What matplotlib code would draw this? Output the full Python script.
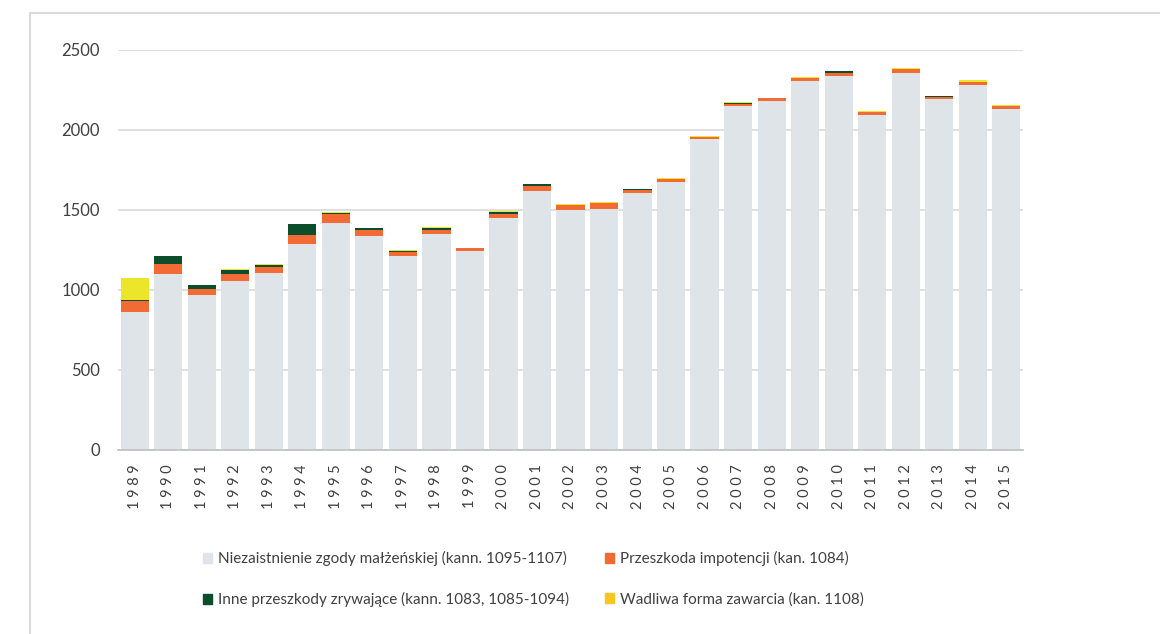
import numpy as np
import matplotlib
matplotlib.use('Agg')
import matplotlib.pyplot as plt
from matplotlib.patches import Rectangle, Patch

plt.rcParams['font.family'] = ['Lato', 'DejaVu Sans']

years = [str(y) for y in range(1989, 2016)]

# Niezaistnienie zgody malzenskiej
zgoda = [860, 1100, 970, 1055, 1105, 1290, 1420, 1340, 1215, 1352,
         1243, 1452, 1620, 1500, 1505, 1608, 1675, 1942, 2150, 2181,
         2308, 2340, 2094, 2356, 2194, 2283, 2133]
# Przeszkoda impotencji
impotencja = [70, 65, 35, 48, 40, 52, 52, 37, 25, 25,
              18, 25, 28, 30, 38, 20, 17, 14, 15, 18,
              14, 18, 20, 24, 10, 18, 14]
# Inne przeszkody zrywajace
inne = [5, 45, 25, 25, 12, 70, 10, 10, 3, 10,
        2, 12, 13, 3, 2, 1, 4, 2, 6, 1,
        4, 8, 1, 1, 9, 2, 2]
# Wadliwa forma zawarcia
forma = [140, 5, 2, 3, 5, 3, 5, 3, 7, 5,
         2, 5, 4, 4, 5, 1, 4, 4, 4, 1,
         4, 4, 6, 4, 2, 9, 6]

labels = ['Niezaistnienie zgody małżeńskiej (kann. 1095-1107)',
          'Inne przeszkody zrywające (kann. 1083, 1085-1094)',
          'Przeszkoda impotencji (kan. 1084)',
          'Wadliwa forma zawarcia (kan. 1108)']

c_grey = '#DEE4E7'
c_orange = '#F26B35'
c_green = '#0C4E2B'
c_yellow = '#EBE62A'
c_yellow_leg = '#F7C620'
txt = '#404040'

fig = plt.figure(figsize=(11.6, 6.34), dpi=100)
ax = fig.add_axes([118/1160, 1-450/634, 905/1160, 400/634])

x = np.arange(len(years))
w = 0.84
b1 = np.array(zgoda)
b2 = b1 + np.array(impotencja)
b3 = b2 + np.array(inne)
ax.bar(x, zgoda, w, color=c_grey, zorder=2)
ax.bar(x, impotencja, w, bottom=b1, color=c_orange, zorder=2)
ax.bar(x, inne, w, bottom=b2, color=c_green, zorder=2)
ax.bar(x, forma, w, bottom=b3, color=c_yellow, zorder=2)

ax.set_xlim(-0.5, len(years) - 0.5)
ax.set_ylim(0, 2500)
yt = [0, 500, 1000, 1500, 2000, 2500]
ax.set_yticks(yt)
ax.set_yticklabels([str(v) for v in yt], color=txt, fontsize=12)
ax.set_xticks(x)
# wide letter spacing on the year labels
ax.set_xticklabels(['\u2005'.join(y) for y in years], rotation=90,
                   color=txt, fontsize=10.5)
ax.tick_params(axis='both', length=0)
ax.tick_params(axis='y', pad=13)
ax.tick_params(axis='x', pad=10)
ax.grid(axis='y', color='#D9D9D9', linewidth=1.2, zorder=0)
for s in ['top', 'right', 'left']:
    ax.spines[s].set_visible(False)
ax.spines['bottom'].set_color('#BFBFBF')
ax.spines['bottom'].set_linewidth(1.2)
ax.spines['bottom'].set_zorder(3)

handles = [Patch(color=c_grey), Patch(color=c_green),
           Patch(color=c_orange), Patch(color=c_yellow_leg)]
fig.legend(handles, labels, ncol=2, loc='upper left',
           bbox_to_anchor=(203/1160, 1-551/634), frameon=False,
           fontsize=11, labelcolor=txt, handlelength=0.6, handleheight=0.6,
           handletextpad=0.4, labelspacing=1.7, columnspacing=2.3,
           borderpad=0, borderaxespad=0)

# outer frame (clipped on right and bottom)
fig.patches.append(Rectangle((30/1160, -0.2), 1.5, 1.2 - 12.5/634,
                             transform=fig.transFigure, fill=False,
                             edgecolor='#D9D9D9', linewidth=1.5))

fig.savefig('out.png', dpi=100, facecolor='white')
